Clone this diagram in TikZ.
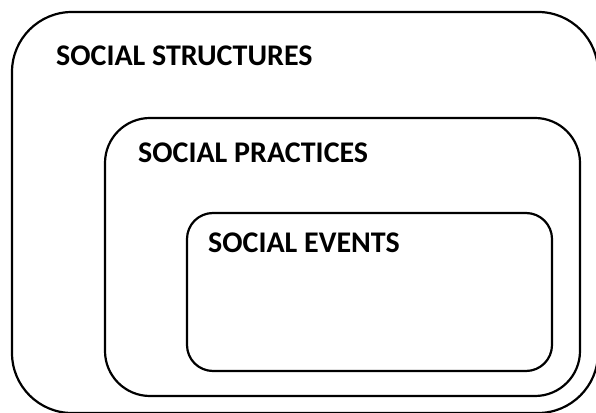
\documentclass[tikz,border=0pt]{standalone}
\usepackage{fontspec}
\setmainfont{Carlito}
\begin{document}
\begin{tikzpicture}[x=1pt,y=1pt,
  box/.style={draw=black, line width=2.2pt},
  lbl/.style={anchor=base west, inner sep=0pt, font=\fontsize{30}{32}\selectfont\bfseries}]
\useasboundingbox (0,0) rectangle (596,412);
\clip (0,0) rectangle (596,412);
\draw[box, rounded corners=60pt] (12,-1) rectangle (598,400);
\draw[box, rounded corners=45pt] (105,16) rectangle (580,294);
\draw[box, rounded corners=26pt] (187,41) rectangle (552,199);
\node[lbl] (structures) at (56,346) {SOCIAL STRUCTURES};
\node[lbl] (practices) at (138,249) {SOCIAL PRACTICES};
\node[lbl] (events) at (208,159) {SOCIAL EVENTS};
\end{tikzpicture}
\end{document}
